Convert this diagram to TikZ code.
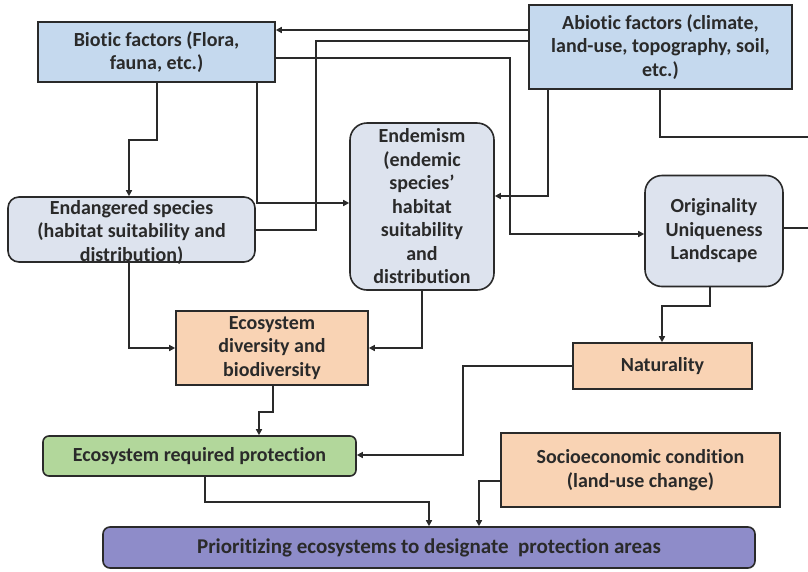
\documentclass[tikz,border=0pt]{standalone}
\usepackage{fontspec}
\setmainfont{Carlito}[Ligatures=NoCommon]
\usetikzlibrary{arrows.meta}
\definecolor{bluebox}{HTML}{C5D9EE}
\definecolor{greybox}{HTML}{DDE3EE}
\definecolor{orangebox}{HTML}{F9D3B4}
\definecolor{greenbox}{HTML}{B2D79B}
\definecolor{purplebox}{HTML}{8E8CC9}
\definecolor{edgecol}{HTML}{2A2A2A}
\begin{document}
\begin{tikzpicture}[x=1pt,y=-1pt,
  box/.style={draw=edgecol, line width=1.6pt, inner sep=0pt, align=center,
    font=\fontsize{20}{23.5}\selectfont\bfseries, text=edgecol},
  conn/.style={draw=edgecol, line width=1.4pt},
  arr/.style={conn, -{Triangle[length=6pt,width=6pt]}},
]
\useasboundingbox[fill=white] (0,0) rectangle (808,571);

\node[box, fill=bluebox, minimum width=237pt, minimum height=60pt] (bio) at (156.5,52)
  {Biotic factors (Flora,\\fauna, etc.)};
\node[box, fill=bluebox, minimum width=263pt, minimum height=84pt] (abio) at (660.5,47)
  {Abiotic factors (climate,\\land-use, topography, soil,\\etc.)};
\node[box, fill=greybox, rounded corners=11pt, minimum width=247pt, minimum height=65pt,
  text depth=0pt] (endg) at (131.5,229.5) {};
\node[box, draw=none, text=edgecol] (endgtext) at (131.5,232)
  {Endangered species\\(habitat suitability and\\distribution)};
\node[box, fill=greybox, rounded corners=17pt, minimum width=144pt, minimum height=167pt] (endm) at (422,206.5)
  {Endemism\\(endemic\\species’\\habitat\\suitability\\and\\distribution};
\node[box, fill=greybox, rounded corners=17pt, minimum width=138pt, minimum height=111pt] (orig) at (714,231)
  {Originality\\Uniqueness\\Landscape};
\node[box, fill=orangebox, minimum width=192pt, minimum height=74pt] (ecodiv) at (272,348)
  {Ecosystem\\diversity and\\biodiversity};
\node[box, fill=orangebox, minimum width=179pt, minimum height=46pt] (nat) at (662.5,366)
  {Naturality};
\node[box, fill=greenbox, rounded corners=6pt, minimum width=313pt, minimum height=40pt] (ecoreq) at (199.5,456)
  {Ecosystem required protection};
\node[box, fill=orangebox, minimum width=279pt, minimum height=74pt] (socio) at (640.5,470)
  {Socioeconomic condition\\(land-use change)};
\node[box, fill=purplebox, rounded corners=7pt, minimum width=652pt, minimum height=41pt,
  font=\fontsize{21}{25}\selectfont\bfseries] (prior) at (429,547.5)
  {Prioritizing ecosystems to designate~ protection areas};
\draw[edgecol, line width=1.2pt] ([xshift=5pt,yshift=-1.2pt]prior.north west) -- ([xshift=-5pt,yshift=-1.2pt]prior.north east);

\coordinate (edgeA) at (808,137);
\coordinate (edgeB) at (808,228);

% Abiotic -> Biotic
\draw[arr] (abio.west |- 0,30) -- (bio.east |- 0,30);
% Abiotic -- Endangered
\draw[conn] (abio.west |- 0,41) -| (316,230) -- (endg.east |- 0,230);
% Biotic -> Originality
\draw[arr] (bio.east |- 0,58) -| (510,234) -- (orig.west |- 0,234);
% Biotic -> Endemism
\draw[arr] (bio.south -| 257,0) |- (endm.west |- 0,203);
% Biotic -> Endangered
\draw[arr] (bio.south -| 157,0) -- (157,140) -| (endg.north -| 129,0);
% Abiotic -> Endemism
\draw[arr] (abio.south -| 548,0) |- (endm.east |- 0,196);
% Abiotic -- right edge
\draw[conn] (abio.south -| 660,0) |- (edgeA);
% Originality -- right edge
\draw[conn] (orig.east |- edgeB) -- (edgeB);
% Endangered -> EcoDiv
\draw[arr] (endg.south -| 129,0) |- (ecodiv.west);
% Endemism -> EcoDiv
\draw[arr] (endm.south) |- (ecodiv.east);
% Originality -> Naturality
\draw[arr] (orig.south -| 710,0) -- (710,306) -| (nat.north -| 662,0);
% Naturality -> EcoReq
\draw[arr] (nat.west) -| (463,455) -- (ecoreq.east |- 0,455);
% EcoDiv -> EcoReq
\draw[arr] (ecodiv.south -| 273,0) -- (273,412) -| (ecoreq.north -| 259,0);
% EcoReq -> Prior
\draw[arr] (ecoreq.south -| 205,0) -- (205,502) -| (prior.north -| 429,0);
% Socio -> Prior
\draw[arr] (socio.west |- 0,481) -| (prior.north -| 479,0);
\end{tikzpicture}
\end{document}
